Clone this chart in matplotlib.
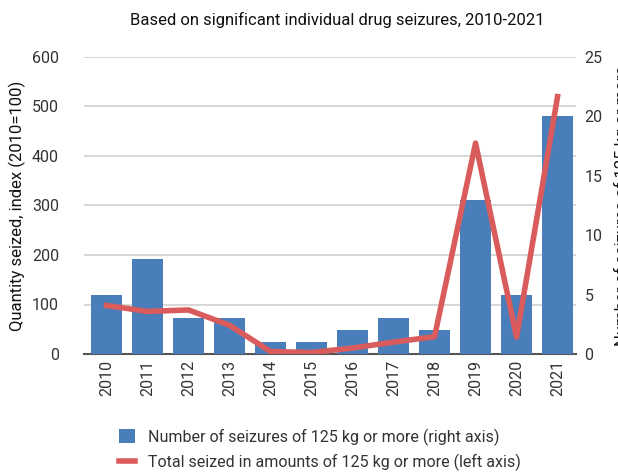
import numpy as np
import matplotlib.pyplot as plt

plt.rcParams['font.family'] = ['Roboto', 'DejaVu Sans']

# Data
years = ['2010', '2011', '2012', '2013', '2014', '2015', '2016', '2017', '2018', '2019', '2020', '2021']
seizures = [5, 8, 3, 3, 1, 1, 2, 3, 2, 13, 5, 20]  # right axis
quantity_index = [98, 86, 89, 58, 5, 3, 12, 24, 35, 426, 34, 520]  # left axis

fig = plt.figure(figsize=(6.18, 4.74), dpi=100)
ax = fig.add_axes([84 / 618, 1 - 354 / 474, (576 - 84) / 618, (354 - 57) / 474])
ax2 = ax.twinx()

x = np.arange(len(years))
bars = ax2.bar(x, seizures, width=0.75, color='#4a7ebb', zorder=2,
               label='Number of seizures of 125 kg or more (right axis)')
ax2.set_ylim(0, 25)
ax2.set_yticks(range(0, 26, 5))

ax.set_ylim(0, 600)
ax.set_yticks(range(0, 601, 100))
ax.set_xlim(-0.55, len(years) - 0.55)
ax.set_xticks(x)
ax.set_xticklabels(years, rotation=90)

# line drawn on the right axes (rescaled from left axis) so it sits over the bars
line, = ax2.plot(x, np.array(quantity_index) / 600 * 25, color='#d95b5b', linewidth=4, zorder=3,
                 label='Total seized in amounts of 125 kg or more (left axis)')

for a in (ax, ax2):
    for s in a.spines.values():
        s.set_visible(False)
    a.tick_params(length=0, labelsize=11.5, colors='#333333')
ax.spines['bottom'].set_visible(True)
ax.spines['bottom'].set_color('#555555')
ax.spines['bottom'].set_linewidth(1.5)
ax.tick_params(axis='x', pad=4)
ax.tick_params(axis='y', pad=18)
ax2.tick_params(axis='y', pad=6)
ax.grid(axis='y', color='#d0d0d0', linewidth=1.2, zorder=0)
ax.set_axisbelow(True)

ax.set_ylabel('Quantity seized, index (2010=100)', fontsize=12, color='#111111')
ax2.set_ylabel('Number of seizures of 125 kg or more', fontsize=12, color='#111111', labelpad=8)

fig.text(0.545, 1 - 20 / 474, 'Based on significant individual drug seizures, 2010-2021',
         ha='center', va='center', fontsize=12, color='#111111')

fig.legend([bars, line], [bars.get_label(), line.get_label()], loc='upper left',
           bbox_to_anchor=(105 / 618, 1 - 414 / 474), frameon=False,
           fontsize=11.5, handlelength=1.0, handleheight=1.0, labelspacing=0.5,
           labelcolor='#333333')

fig.savefig('out.png', dpi=100)
